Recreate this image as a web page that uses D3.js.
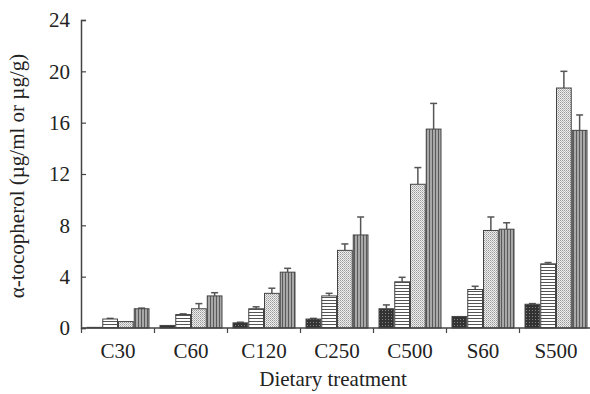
<!DOCTYPE html>
<html><head><meta charset="utf-8">
<script src="https://cdn.jsdelivr.net/npm/d3@7"></script>
<style>body{margin:0;background:#fff}svg{display:block}</style>
</head><body>
<svg id="c" width="590" height="394"></svg>
<script>
const categories = ["C30","C60","C120","C250","C500","S60","S500"];
const seriesNames = ["s1","s2","s3","s4"];
const s1 = [0.05,0.2,0.4,0.7,1.5,0.9,1.85];
const s2 = [0.7,1.05,1.5,2.5,3.6,3.0,5.0];
const s3 = [0.5,1.5,2.7,6.05,11.2,7.6,18.7];
const s4 = [1.5,2.5,4.35,7.25,15.5,7.7,15.4];
const e1 = [0,0,0.05,0.05,0.3,0,0.05];
const e2 = [0.05,0.05,0.15,0.2,0.35,0.25,0.1];
const e3 = [0,0.4,0.4,0.5,1.3,1.05,1.3];
const e4 = [0.05,0.25,0.3,1.4,2.0,0.5,1.2];
const yTicks = [0,4,8,12,16,20,24];

const values=[s1,s2,s3,s4], errs=[e1,e2,e3,e4];
const svg=d3.select("#c");
const defs=svg.append("defs");
let p=defs.append("pattern").attr("id","p0").attr("width",3).attr("height",3).attr("patternUnits","userSpaceOnUse");
p.append("rect").attr("width",3).attr("height",3).attr("fill","#333");
p.append("rect").attr("x",1).attr("y",1).attr("width",1).attr("height",1).attr("fill","#858585");
p=defs.append("pattern").attr("id","p1").attr("width",4).attr("height",3).attr("patternUnits","userSpaceOnUse");
p.append("rect").attr("width",4).attr("height",3).attr("fill","#fff");
p.append("rect").attr("y",0).attr("width",4).attr("height",1).attr("fill","#555");
p=defs.append("pattern").attr("id","p2").attr("width",2).attr("height",2).attr("patternUnits","userSpaceOnUse");
p.append("rect").attr("width",2).attr("height",2).attr("fill","#eee");
p.append("rect").attr("width",1).attr("height",1).attr("fill","#999");
p.append("rect").attr("x",1).attr("y",1).attr("width",1).attr("height",1).attr("fill","#bbb");
p=defs.append("pattern").attr("id","p3").attr("width",3).attr("height",3).attr("patternUnits","userSpaceOnUse");
p.append("rect").attr("width",3).attr("height",3).attr("fill","#a8a8a8");
p.append("rect").attr("width",1).attr("height",3).attr("fill","#5a5a5a");

const x0=d3.scaleBand().domain(categories).range([81.5,592.5]).paddingInner(0.137).paddingOuter(0.0685);
const x1=d3.scaleBand().domain(seriesNames).range([0,x0.bandwidth()]);
const y=d3.scaleLinear().domain([0,24]).range([328,20]);

const g=svg.append("g");
categories.forEach((c,i)=>{
  seriesNames.forEach((s,j)=>{
    const v=values[j][i], e=errs[j][i];
    const bx=x0(c)+x1(s);
    if(e>0){
      g.append("line").attr("x1",bx+x1.bandwidth()/2).attr("x2",bx+x1.bandwidth()/2)
        .attr("y1",y(v)).attr("y2",y(v+e)).attr("stroke","#555").attr("stroke-width",1.5);
      g.append("line").attr("x1",bx+x1.bandwidth()/2-3.5).attr("x2",bx+x1.bandwidth()/2+3.5)
        .attr("y1",y(v+e)).attr("y2",y(v+e)).attr("stroke","#555").attr("stroke-width",1.5);
    }
    g.append("rect").attr("x",bx+0.5).attr("y",y(v)).attr("width",x1.bandwidth()-1)
      .attr("height",y(0)-y(v)).attr("fill","url(#p"+j+")").attr("stroke","#444").attr("stroke-width",1);
  });
});

const ya=svg.append("g").attr("transform","translate(81,0)")
  .call(d3.axisLeft(y).tickValues(yTicks).tickSize(-5).tickPadding(11).tickFormat(d3.format("d")));
ya.select(".domain").attr("stroke","#444").attr("stroke-width",1.5);
ya.selectAll(".tick line").attr("stroke","#444").attr("stroke-width",1.2);
ya.selectAll("text").attr("font-family","Liberation Serif").attr("font-size",21).attr("fill","#222");

const xa=svg.append("g").attr("transform","translate(0,328)")
  .call(d3.axisBottom(x0).tickSize(0).tickPadding(15));
xa.select(".domain").attr("stroke","#444").attr("stroke-width",1.5).attr("d","M81,0H590");
xa.selectAll("text").attr("font-family","Liberation Serif").attr("font-size",21).attr("fill","#222");
const bounds=categories.map(c=>x0(c)-x0.step()*x0.paddingInner()/2);
xa.selectAll(".bt").data(bounds).enter().append("line").attr("class","bt")
  .attr("x1",d=>d).attr("x2",d=>d).attr("y1",0).attr("y2",5).attr("stroke","#444").attr("stroke-width",1.2);

svg.append("text").attr("x",333).attr("y",386).attr("text-anchor","middle")
  .attr("font-family","Liberation Serif").attr("font-size",21).attr("fill","#222").text("Dietary treatment");
svg.append("text").attr("transform","translate(24,176) rotate(-90)").attr("text-anchor","middle")
  .attr("font-family","Liberation Serif").attr("font-size",21).attr("fill","#222").text("α-tocopherol (µg/ml or µg/g)");
</script>
</body></html>
